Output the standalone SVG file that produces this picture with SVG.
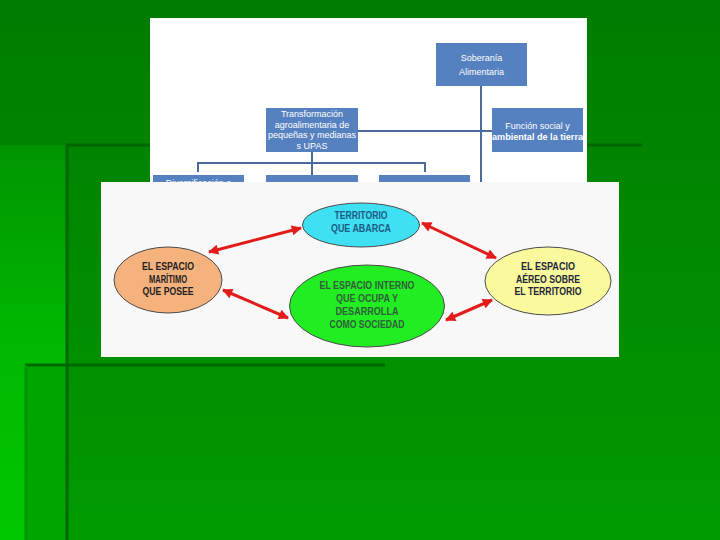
<svg xmlns="http://www.w3.org/2000/svg" width="720" height="540" viewBox="0 0 720 540">
<defs>
<linearGradient id="bg" x1="0" y1="0" x2="0" y2="1">
<stop offset="0" stop-color="#007c00"/>
<stop offset="1" stop-color="#009a00"/>
</linearGradient>
<linearGradient id="strip" x1="0" y1="0" x2="0" y2="1">
<stop offset="0" stop-color="#009400"/>
<stop offset="0.5" stop-color="#00b800"/>
<stop offset="1" stop-color="#00c800"/>
</linearGradient>
<marker id="ah" viewBox="0 0 10 10" refX="9" refY="5" markerWidth="4" markerHeight="3.4" orient="auto-start-reverse" markerUnits="strokeWidth">
<path d="M0,0 L10,5 L0,10 z" fill="#e21b1b"/>
</marker>
<style>
.box{fill:#5681c0}
.bt{font-family:"Liberation Sans","Open Sans",sans-serif;font-size:9px;fill:#ffffff;text-anchor:middle}
.ol{stroke:#4a6b9c;stroke-width:2;fill:none}
.el{stroke:#4a4a4a;stroke-width:1}
.et{font-family:"Liberation Sans Narrow","Liberation Sans",sans-serif;font-weight:bold;font-size:10px;text-anchor:middle}
.ar{stroke:#e21b1b;stroke-width:3;fill:none;marker-start:url(#ah);marker-end:url(#ah)}
.dl{stroke:#006400;stroke-width:3}
</style>
</defs>

<g id="background">
<rect x="0" y="0" width="720" height="540" fill="url(#bg)"/>
<rect x="0" y="145" width="67" height="395" fill="url(#strip)"/>
<rect x="25" y="364" width="42" height="176" fill="#00a600"/>
<line class="dl" x1="66" y1="145" x2="642" y2="145"/>
<line class="dl" x1="67" y1="145" x2="67" y2="540" stroke="#006e00"/>
<line x1="25" y1="365" x2="385" y2="365" stroke="#006a00" stroke-width="3"/>
<line x1="26" y1="365" x2="26" y2="540" stroke="#009400" stroke-width="3"/>
</g>

<g id="org-chart">
<rect x="150" y="18" width="437" height="167" fill="#ffffff"/>
<g id="org-connectors">
<line class="ol" x1="481" y1="86" x2="481" y2="185"/>
<line class="ol" x1="358" y1="131" x2="492" y2="131"/>
<line class="ol" x1="312" y1="152" x2="312" y2="175"/>
<polyline class="ol" points="198,172 198,163 425,163 425,172"/>
</g>
<g id="soberania">
<rect class="box" x="436" y="43" width="91" height="43"/>
<text class="bt" x="481.5" y="61">Soberanía</text>
<text class="bt" x="481.5" y="75">Alimentaria</text>
</g>
<g id="transformacion">
<rect class="box" x="266" y="108" width="92" height="44"/>
<text class="bt" x="312" y="117">Transformación</text>
<text class="bt" x="312" y="127.5">agroalimentaria de</text>
<text class="bt" x="312" y="138">pequeñas y medianas</text>
<text class="bt" x="312" y="148.5">s UPAS</text>
</g>
<g id="funcion">
<rect class="box" x="492" y="108" width="91" height="44"/>
<text class="bt" x="537.5" y="128.5">Función social y</text>
<text class="bt" x="537.5" y="139.5" font-weight="bold" textLength="91" lengthAdjust="spacingAndGlyphs">ambiental de la tierra</text>
</g>
<g id="diversificacion">
<rect class="box" x="153" y="175" width="91" height="10"/>
<text class="bt" x="198.5" y="186">Diversificación e</text>
</g>
<g id="box-mid">
<rect class="box" x="266" y="175" width="92" height="10"/>
</g>
<g id="box-right">
<rect class="box" x="379" y="175" width="91" height="10"/>
</g>
</g>

<g id="map-diagram">
<rect x="101" y="182" width="518" height="175" fill="#f8f8f8"/>
<g id="connectors">
<line class="ar" x1="209" y1="252" x2="301" y2="228"/>
<line class="ar" x1="422" y1="223" x2="496" y2="258"/>
<line class="ar" x1="223" y1="290" x2="288" y2="318"/>
<line class="ar" x1="446" y1="320" x2="492" y2="300"/>
</g>
<g id="territorio">
<ellipse class="el" cx="361" cy="225" rx="58.5" ry="22" fill="#3fe0f2"/>
<text class="et" x="361" y="219" fill="#1e5a86" textLength="53" lengthAdjust="spacingAndGlyphs">TERRITORIO</text>
<text class="et" x="361" y="232" fill="#1e5a86" textLength="60" lengthAdjust="spacingAndGlyphs">QUE ABARCA</text>
</g>
<g id="maritimo">
<ellipse class="el" cx="168" cy="280" rx="54" ry="33" fill="#f5b27d"/>
<text class="et" x="168" y="270" fill="#222222" textLength="52" lengthAdjust="spacingAndGlyphs">EL ESPACIO</text>
<text class="et" x="168" y="283" fill="#222222" textLength="38" lengthAdjust="spacingAndGlyphs">MARÍTIMO</text>
<text class="et" x="168" y="295" fill="#222222" textLength="51" lengthAdjust="spacingAndGlyphs">QUE POSEE</text>
</g>
<g id="interno">
<ellipse class="el" cx="367" cy="306" rx="77.5" ry="41" fill="#22ec22"/>
<text class="et" x="367" y="289" fill="#2f5f3a" textLength="95" lengthAdjust="spacingAndGlyphs">EL ESPACIO INTERNO</text>
<text class="et" x="367" y="302" fill="#2f5f3a" textLength="62" lengthAdjust="spacingAndGlyphs">QUE  OCUPA Y</text>
<text class="et" x="367" y="315" fill="#2f5f3a" textLength="63" lengthAdjust="spacingAndGlyphs">DESARROLLA</text>
<text class="et" x="367" y="328" fill="#2f5f3a" textLength="75" lengthAdjust="spacingAndGlyphs">COMO SOCIEDAD</text>
</g>
<g id="aereo">
<ellipse class="el" cx="548" cy="281" rx="63" ry="34" fill="#fafa9c"/>
<text class="et" x="548" y="270" fill="#22263a" textLength="54" lengthAdjust="spacingAndGlyphs">EL ESPACIO</text>
<text class="et" x="548" y="283" fill="#22263a" textLength="64" lengthAdjust="spacingAndGlyphs">AÉREO SOBRE</text>
<text class="et" x="548" y="295" fill="#22263a" textLength="67" lengthAdjust="spacingAndGlyphs">EL TERRITORIO</text>
</g>
</g>
</svg>
